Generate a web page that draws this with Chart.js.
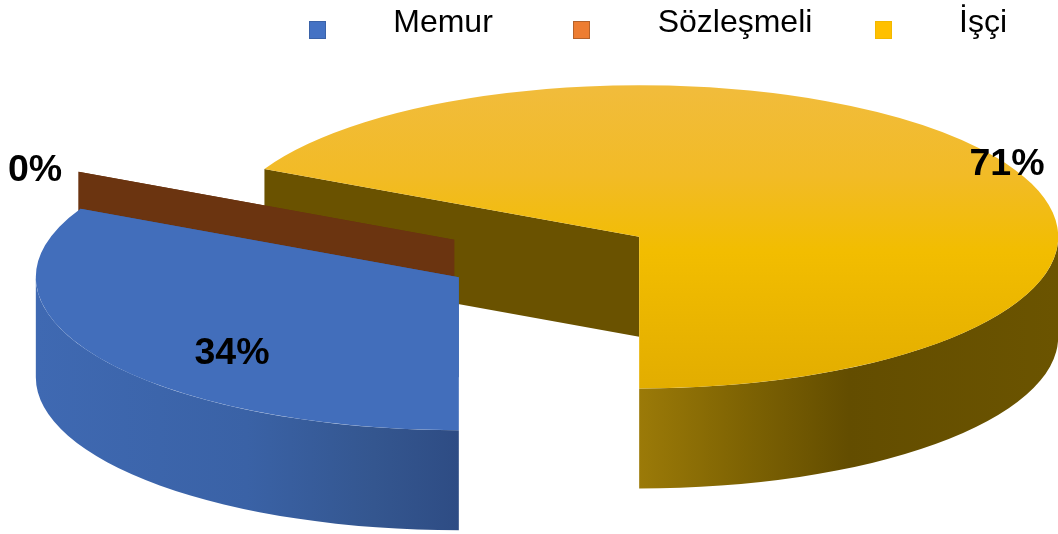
<!DOCTYPE html>
<html lang="tr">
<head>
<meta charset="utf-8">
<title>Memur Sözleşmeli İşçi</title>
<script src="https://cdn.jsdelivr.net/npm/chart.js@4"></script>
<style>
  html, body { margin: 0; padding: 0; background: #fff; }
  #wrap { position: relative; width: 1058px; height: 534px; overflow: hidden; }
</style>
</head>
<body>
<div id="wrap"><canvas id="pie" width="1058" height="534"></canvas></div>
<script>
// data
const categories = ["Memur", "Sözleşmeli", "İşçi"];
const values = [34, 0, 71];

// 3d look
const RADIUS = 420;
const sliceRadius = [423, 420, 419];
const TILT = 152 / 420;   // squash of the disc
const DEPTH = 100;        // wall height in px
const EXPLODE = 106;      // how far slices are pulled out
const CENTER_Y = 257;

const topColors = ["#426EBB", "#ED7D31", null];
const sideColors = ["#3A5F9F", "#6B3410", "#6A5200"];
const legendColors = ["#4472C4", "#ED7D31", "#FFC000"];
const legendBorders = ["#3A62A8", "#B4622A", "#F2B800"];

// wall gradients, horizontal
const wallStops = [
  [[0, "#3F69B2"], [0.5, "#3A62A6"], [0.8, "#34568F"], [1, "#2E4C84"]],
  null,
  [[0, "#9B7A08"], [0.25, "#7E6303"], [0.5, "#634D00"], [1, "#6B5400"]]
];

// label and legend placement
const labelPos = [[232, 354], [35, 171], [1007, 165]];
const legendBoxX = [309, 573, 875];
const legendTextX = [443, 735, 983];

function yellowTop(c) {
  const top = CENTER_Y + (85 - CENTER_Y) / TILT;
  const bottom = CENTER_Y + (389 - CENTER_Y) / TILT;
  const g = c.createLinearGradient(0, top, 0, bottom);
  g.addColorStop(0, "#F1BC3C");
  g.addColorStop(0.3, "#F2BB26");
  g.addColorStop(0.55, "#F2BD00");
  g.addColorStop(1, "#E2AD00");
  return g;
}

function halfAngle(arc) {
  return (arc.startAngle + arc.endAngle) / 2;
}

function screenY(y) {
  return CENTER_Y + (y - CENTER_Y) * TILT;
}

function drawSide(c, arc, angle, color) {
  const cy = screenY(arc.y);
  const rimX = arc.x + Math.cos(angle) * arc.outerRadius;
  const rimY = cy + Math.sin(angle) * arc.outerRadius * TILT;
  c.beginPath();
  c.moveTo(arc.x, cy);
  c.lineTo(rimX, rimY);
  c.lineTo(rimX, rimY + DEPTH);
  c.lineTo(arc.x, cy + DEPTH);
  c.closePath();
  c.fillStyle = color;
  c.fill();
}

function drawRim(c, arc, stops) {
  const cy = screenY(arc.y);
  const r = arc.outerRadius;
  [[0, Math.PI], [2 * Math.PI, 3 * Math.PI]].forEach(([lo, hi]) => {
    const a0 = Math.max(arc.startAngle, lo);
    const a1 = Math.min(arc.endAngle, hi);
    if (a1 <= a0) return;
    // front wall on the right or on the left of the slice centre
    const onRight = Math.cos(a0) + Math.cos(a1) > 0;
    const g = onRight
      ? c.createLinearGradient(arc.x, 0, arc.x + r, 0)
      : c.createLinearGradient(arc.x - r, 0, arc.x, 0);
    stops.forEach(s => g.addColorStop(s[0], s[1]));
    c.fillStyle = g;
    c.beginPath();
    c.ellipse(arc.x, cy, r, r * TILT, 0, a0, a1);
    c.ellipse(arc.x, cy + DEPTH, r, r * TILT, 0, a1, a0, true);
    c.closePath();
    c.fill();
  });
}

const pie3d = {
  id: "pie3d",
  // pull slices out here, arc offset option grows the radius too
  afterDatasetUpdate(chart) {
    chart.getDatasetMeta(0).data.forEach((arc, i) => {
      const a = halfAngle(arc);
      arc.x += Math.cos(a) * EXPLODE;
      arc.y += Math.sin(a) * EXPLODE;
      arc.outerRadius = sliceRadius[i];
    });
  },
  beforeDatasetsDraw(chart) {
    const c = chart.ctx;
    const arcs = chart.getDatasetMeta(0).data;
    for (let i = arcs.length - 1; i >= 0; i--) {
      drawSide(c, arcs[i], arcs[i].startAngle, sideColors[i]);
      drawSide(c, arcs[i], arcs[i].endAngle, sideColors[i]);
    }
    arcs.forEach((arc, i) => {
      if (wallStops[i]) drawRim(c, arc, wallStops[i]);
    });
    c.save();
    c.translate(0, CENTER_Y);
    c.scale(1, TILT);
    c.translate(0, -CENTER_Y);
  },
  afterDatasetsDraw(chart) {
    chart.ctx.restore();
  },
  afterDraw(chart) {
    const c = chart.ctx;
    c.save();
    c.textAlign = "center";
    c.textBaseline = "middle";
    c.fillStyle = "#000";
    c.font = "bold 37.5px 'Liberation Sans', Arial, sans-serif";
    values.forEach((v, i) => c.fillText(v + "%", labelPos[i][0], labelPos[i][1]));

    c.font = "32px 'Liberation Sans', Arial, sans-serif";
    c.textBaseline = "alphabetic";
    categories.forEach((name, i) => {
      c.fillStyle = legendColors[i];
      c.fillRect(legendBoxX[i], 21, 17, 18);
      c.strokeStyle = legendBorders[i];
      c.lineWidth = 1;
      c.strokeRect(legendBoxX[i] + 0.5, 21.5, 16, 17);
      c.fillStyle = "#000";
      c.fillText(name, legendTextX[i], 32);
    });
    c.restore();
  }
};

new Chart(document.getElementById("pie"), {
  type: "pie",
  data: {
    labels: categories,
    datasets: [{
      data: values,
      clip: false,
      borderWidth: 0,
      backgroundColor: ctx => topColors[ctx.dataIndex] || yellowTop(ctx.chart.ctx)
    }]
  },
  options: {
    responsive: false,
    animation: false,
    rotation: 180,
    radius: RADIUS,
    layout: { padding: { left: 40, bottom: 20 } },
    plugins: {
      legend: { display: false },
      tooltip: { enabled: false }
    }
  },
  plugins: [pie3d]
});
</script>
</body>
</html>
